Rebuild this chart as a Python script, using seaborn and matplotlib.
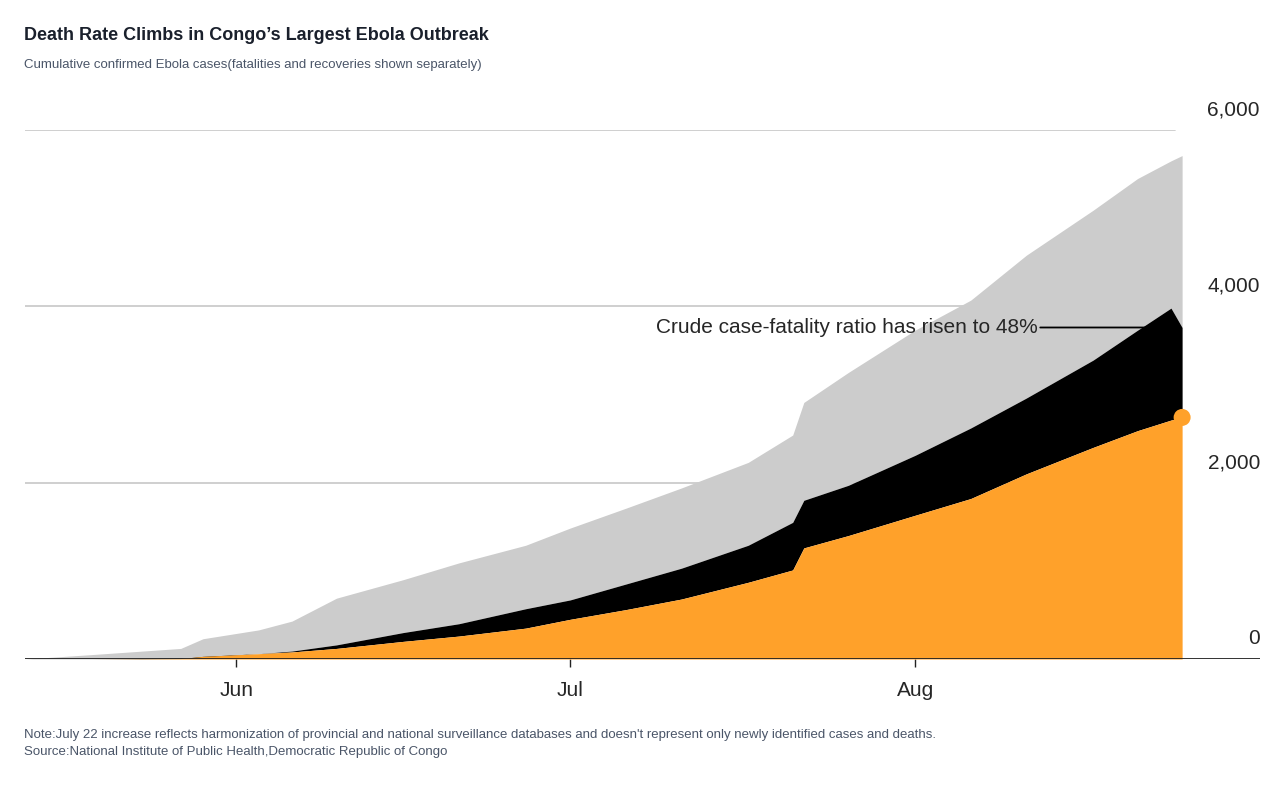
import pandas as pd
import matplotlib.pyplot as plt
import matplotlib.dates as mdates
import seaborn as sns

# Cumulative values (stack tops)
DATES = ["2019-05-13", "2019-05-19", "2019-05-27", "2019-05-29", "2019-06-03", "2019-06-06",
         "2019-06-10", "2019-06-16", "2019-06-21", "2019-06-27", "2019-07-01", "2019-07-06",
         "2019-07-11", "2019-07-17", "2019-07-21", "2019-07-22", "2019-07-26", "2019-08-01",
         "2019-08-06", "2019-08-11", "2019-08-17", "2019-08-21", "2019-08-24", "2019-08-25"]
total_cases = [0, 50, 120, 230, 330, 430, 690, 900, 1090, 1290, 1485, 1710,
               1940, 2230, 2540, 2910, 3250, 3730, 4070, 4580, 5090, 5450, 5650, 5710]
deaths_plus_black = [0, 0, 10, 20, 60, 90, 160, 300, 400, 570, 670, 850,
                     1030, 1290, 1550, 1800, 1970, 2310, 2620, 2960, 3390, 3730, 3980, 3760]
deaths = [0, 0, 5, 30, 60, 80, 120, 200, 260, 350, 450, 560,
          680, 870, 1010, 1260, 1400, 1630, 1820, 2100, 2400, 2590, 2710, 2740]
Y_TICKS = [0, 2000, 4000, 6000]
NOTE = "Note:July 22 increase reflects harmonization of provincial and national surveillance databases and doesn't represent only newly identified cases and deaths."
SOURCE = "Source:National Institute of Public Health,Democratic Republic of Congo"

df = pd.DataFrame({"date": pd.to_datetime(DATES), "total": total_cases,
                   "mid": deaths_plus_black, "deaths": deaths})

sns.set_theme(style="white")
plt.rcParams['font.family'] = ['Liberation Sans', 'DejaVu Sans']

fig = plt.figure(figsize=(12.84, 7.88), dpi=100)
ax = fig.add_axes([25 / 1284, 1 - 659 / 788, 1235 / 1284, (659 - 130) / 788])

ax.fill_between(df["date"], df["mid"], df["total"], color="#cccccc", lw=0)
ax.fill_between(df["date"], df["deaths"], df["mid"], color="#000000", lw=0)
ax.fill_between(df["date"], 0, df["deaths"], color="#ffa12a", lw=0)
last = df.iloc[[-1]]
sns.scatterplot(data=last, x="date", y="deaths", ax=ax, color="#ffa12a", s=150,
                edgecolor="none", zorder=5)

ax.set_xlim(pd.Timestamp("2019-05-13"), pd.Timestamp("2019-09-01"))
ax.set_ylim(0, 6000)
for s in ax.spines.values():
    s.set_visible(False)
ax.set_yticks([])
ax.set_xlabel("")
ax.set_ylabel("")

for v in Y_TICKS[1:]:
    ax.axhline(v, xmin=0, xmax=0.931, color="#cccccc", lw=1.3, zorder=0)
    ax.text(1.0, v + 120, f"{v:,}", transform=ax.get_yaxis_transform(),
            ha="right", va="bottom", fontsize=15)
ax.text(1.0, 120, "0", transform=ax.get_yaxis_transform(), ha="right", va="bottom", fontsize=15)
ax.axhline(0, color="#222222", lw=1.3, zorder=6)

ax.set_xticks(pd.to_datetime(["2019-06-01", "2019-07-01", "2019-08-01"]))
ax.xaxis.set_major_formatter(mdates.DateFormatter("%b"))
ax.tick_params(axis="x", labelsize=15, length=6, width=1, direction="out", bottom=True,
               color="#222222", pad=10)

end = df["date"].iloc[-1]
ax.annotate("", xy=(end, 3760), xytext=(pd.Timestamp("2019-08-12"), 3760),
            arrowprops=dict(arrowstyle="-", color="black", lw=1.3))
ax.text(pd.Timestamp("2019-08-12"), 3760, "Crude case-fatality ratio has risen to 48%",
        ha="right", va="center", fontsize=15)

fig.text(24 / 1284, 1 - 36 / 788, "Death Rate Climbs in Congo’s Largest Ebola Outbreak",
         fontsize=13, fontweight="bold", color="#1a202c", va="center")
fig.text(24 / 1284, 1 - 65 / 788, "Cumulative confirmed Ebola cases(fatalities and recoveries shown separately)",
         fontsize=9.5, color="#4a5568", va="center")
fig.text(24 / 1284, 1 - 735 / 788, NOTE, fontsize=9.5, color="#4a5568", va="center")
fig.text(24 / 1284, 1 - 752 / 788, SOURCE, fontsize=9.5, color="#4a5568", va="center")

fig.savefig("out.png", dpi=100)
